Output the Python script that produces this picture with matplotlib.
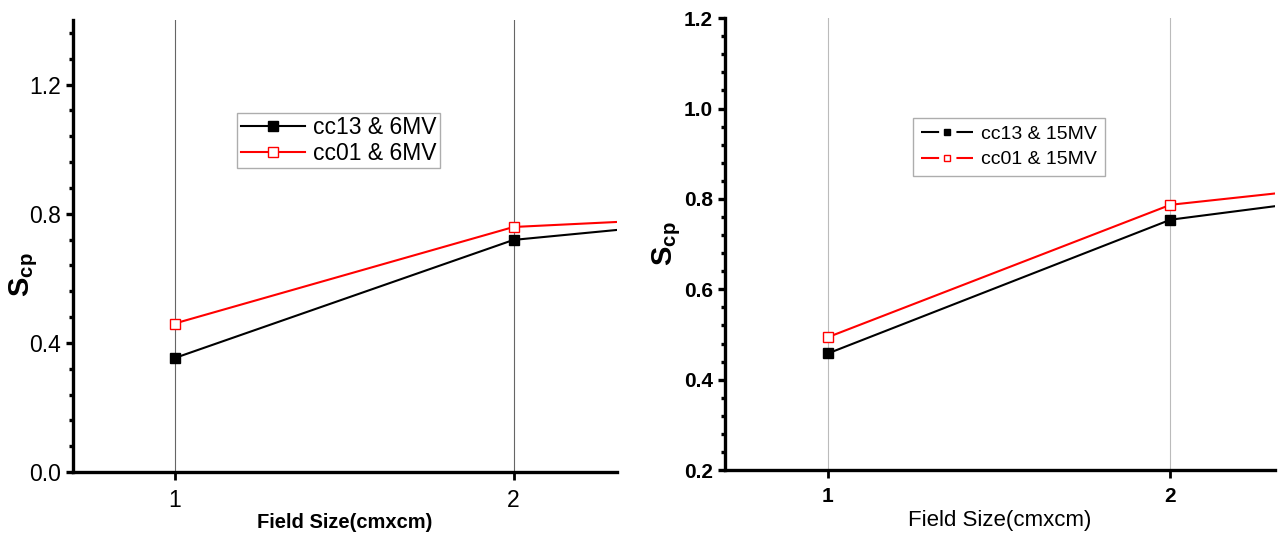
import numpy as np
import matplotlib
matplotlib.use('Agg')
import matplotlib.pyplot as plt
from matplotlib.lines import Line2D
from matplotlib.ticker import MultipleLocator

plt.rcParams['font.family'] = ['Liberation Sans', 'DejaVu Sans']
plt.rcParams['mathtext.fontset'] = 'custom'
plt.rcParams['mathtext.rm'] = 'Liberation Sans'
plt.rcParams['mathtext.bf'] = 'Liberation Sans:bold'

# field sizes (cm x cm) and S_cp values
field_size = [1, 2, 3]
cc13_6mv = [0.353, 0.719, 0.82]
cc01_6mv = [0.460, 0.759, 0.81]
cc13_15mv = [0.458, 0.754, 0.852]
cc01_15mv = [0.494, 0.787, 0.869]

labels_left = ['cc13 & 6MV', 'cc01 & 6MV']
labels_right = ['cc13 & 15MV', 'cc01 & 15MV']

fig = plt.figure(figsize=(12.85, 5.33), dpi=100)
ax1 = fig.add_axes([0.0568, 0.1144, 0.4233, 0.848])
ax2 = fig.add_axes([0.5642, 0.118, 0.428, 0.848])


def style_axes(ax, grid_color, tsize):
    for s in ['top', 'right']:
        ax.spines[s].set_visible(False)
    for s in ['left', 'bottom']:
        ax.spines[s].set_linewidth(2.4)
    ax.set_xlim(0.7, 2.305)
    ax.set_xticks([1, 2])
    for x in [1, 2]:
        ax.axvline(x, color=grid_color, lw=0.8, zorder=0)
    ax.tick_params(axis='y', which='major', direction='out', length=5, width=2.4, labelsize=tsize)
    ax.tick_params(axis='y', which='minor', direction='out', length=3, width=2.4)
    ax.tick_params(axis='x', which='major', direction='out', length=6, width=2.0, labelsize=tsize, pad=6)


# left panel
ax1.plot(field_size, cc13_6mv, '-', color='black', lw=1.5, marker='s', ms=7,
         mfc='black', mec='black', label=labels_left[0])
ax1.plot(field_size, cc01_6mv, '-', color='red', lw=1.5, marker='s', ms=7,
         mfc='white', mec='red', label=labels_left[1])
style_axes(ax1, '#666666', 16.5)
ax1.set_ylim(0, 1.4)
ax1.yaxis.set_minor_locator(MultipleLocator(0.08))
ax1.set_yticks([0.0, 0.4, 0.8, 1.2])
ax1.set_xlabel('Field Size(cmxcm)', fontsize=14.5, fontweight='bold', labelpad=1)
ax1.set_ylabel(r'$\mathbf{S}_{\mathbf{cp}}$', fontsize=21)
ax1.yaxis.set_label_coords(-0.06, 0.436)
leg1 = ax1.legend(loc='upper left', bbox_to_anchor=(0.302, 0.795), fontsize=16.5,
                  frameon=True, fancybox=False, edgecolor='#999999',
                  handlelength=2.8, handletextpad=0.35, borderpad=0.15,
                  labelspacing=0.12, numpoints=1, borderaxespad=0)
leg1.get_frame().set_linewidth(1.0)

# right panel
ax2.plot(field_size, cc13_15mv, '-', color='black', lw=1.5, marker='s', ms=7,
         mfc='black', mec='black')
ax2.plot(field_size, cc01_15mv, '-', color='red', lw=1.5, marker='s', ms=7,
         mfc='white', mec='red')
style_axes(ax2, '#bbbbbb', 15)
ax2.set_ylim(0.2, 1.2)
ax2.yaxis.set_major_locator(MultipleLocator(0.2))
ax2.yaxis.set_minor_locator(MultipleLocator(0.04))
for t in ax2.get_yticklabels() + ax2.get_xticklabels():
    t.set_fontweight('bold')
ax2.set_xlabel('Field Size(cmxcm)', fontsize=16, labelpad=3)
ax2.set_ylabel(r'$\mathbf{S}_{\mathbf{cp}}$', fontsize=21)
ax2.yaxis.set_label_coords(-0.076, 0.5)

h1 = Line2D([], [], color='black', lw=1.5, marker='s', ms=5, mfc='black', mec='black',
            dashes=(8.7, 8.3, 8.7, 100))
h2 = Line2D([], [], color='red', lw=1.5, marker='s', ms=5, mfc='white', mec='red',
            dashes=(8.7, 8.3, 8.7, 100))
leg2 = ax2.legend([h1, h2], labels_right, loc='upper left', bbox_to_anchor=(0.342, 0.78),
                  fontsize=14, frameon=True, fancybox=False, edgecolor='#999999',
                  handlelength=2.7, handletextpad=0.4, borderpad=0.4,
                  labelspacing=0.4, numpoints=1, borderaxespad=0)
leg2.get_frame().set_linewidth(1.0)

fig.savefig('out.png', dpi=100)
